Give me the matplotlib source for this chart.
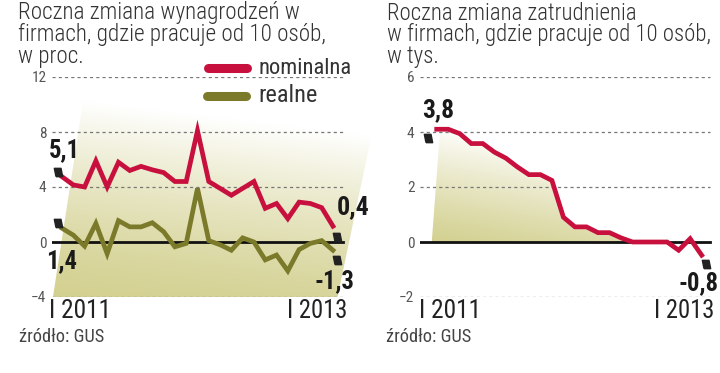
import numpy as np
import matplotlib
matplotlib.use('agg')
import matplotlib.pyplot as plt
from matplotlib.patches import Polygon
from matplotlib.lines import Line2D
from matplotlib.path import Path

plt.rcParams['font.family'] = ['Roboto Condensed', 'Archivo Narrow', 'PT Sans Narrow',
                               'Liberation Sans Narrow', 'DejaVu Sans']

# wages, y/y change in %, I 2011 .. I 2013
nominal = [4.75, 4.15, 4.0, 5.9, 4.0, 5.8, 5.2, 5.5, 5.25, 5.05, 4.4, 4.4, 8.1,
           4.4, 3.9, 3.4, 3.9, 4.4, 2.45, 2.8, 1.7, 2.9, 2.8, 2.5, 1.15]
real = [1.0, 0.5, -0.3, 1.35, -0.85, 1.55, 1.1, 1.1, 1.4, 0.75, -0.35, -0.1, 3.9,
        0.1, -0.2, -0.6, 0.3, 0.0, -1.3, -0.95, -2.1, -0.55, -0.1, 0.1, -0.6]
wage_labels = [5.1, 1.4, 0.4, -1.3]

# employment, y/y change in thousands
employment = [4.1, 4.1, 3.94, 3.58, 3.58, 3.27, 3.05, 2.73, 2.45, 2.45, 2.24, 0.9,
              0.55, 0.55, 0.34, 0.34, 0.15, 0.0, 0.0, 0.0, 0.0, -0.3, 0.12, -0.48]
emp_labels = [3.8, -0.8]

x_labels = ['I 2011', 'I 2013']
titles = [['Roczna zmiana wynagrodzeń w', 'firmach, gdzie pracuje od 10 osób,', 'w proc.'],
          ['Roczna zmiana zatrudnienia', 'w firmach, gdzie pracuje od 10 osób,', 'w tys.']]

RED = '#c8103e'
OLIVE = '#7b7a2a'
TAN = np.array([0.83, 0.82, 0.57])
W, H = 720, 373

fig = plt.figure(figsize=(7.2, 3.73), dpi=100)
renderer = fig.canvas.get_renderer()


def px(x, y):
    return x / W, 1 - y / H


def fit(t, width):
    # scale a text so that it is as wide as in the reference
    w = t.get_window_extent(renderer).width
    t.set_fontsize(t.get_fontsize() * width / w)
    return t


def add_axes(x0, x1, y0, y1):
    ax = fig.add_axes([x0 / W, 1 - y1 / H, (x1 - x0) / W, (y1 - y0) / H])
    ax.set_facecolor('none')
    for s in ax.spines.values():
        s.set_visible(False)
    ax.tick_params(length=0, labelsize=11, labelcolor='#555555', pad=4)
    ax.set_xticks([])
    return ax


def gradient(ax, verts, extent, wu, wv, power):
    n = 200
    u, v = np.meshgrid(np.linspace(0, 1, n), np.linspace(0, 1, n))
    t = np.clip(wu * u + wv * v, 0, 1) ** power
    img = TAN * (1 - t[..., None]) + np.ones(3) * t[..., None]
    im = ax.imshow(img, extent=extent, origin='lower', aspect='auto', zorder=0,
                   interpolation='bilinear')
    patch = Polygon(verts, closed=True, facecolor='none', edgecolor='none')
    ax.add_patch(patch)
    im.set_clip_path(patch)


tag = Path([(-0.6, -1), (1, -1), (0.6, 1), (-1, 1), (-0.6, -1)])

# ---------- left chart: wages
ax1 = add_axes(52, 370, 77, 297)
xs = np.arange(len(nominal))
gradient(ax1, [(-0.8, -4), (2.2, 12), (28.5, 12), (24.4, -4)],
         [-0.8, 28.5, -4, 12], 0.2, 1.1, 1.4)
for yv in [12, 8, 4, -4]:
    ax1.plot([-0.886, 24.9], [yv, yv], color='#777777', lw=0.9,
             ls=(0, (2.5, 2.5)), zorder=1)
ax1.plot([-0.886, 24.9], [0, 0], color='#111111', lw=2, zorder=2)
ax1.plot(xs, nominal, color=RED, lw=3.4, solid_joinstyle='miter', zorder=3)
ax1.plot(xs, real, color=OLIVE, lw=3.4, solid_joinstyle='miter', zorder=3)
ax1.plot([-0.35, -0.35, 24.36, 24.36], wage_labels, ls='none', marker=tag,
         ms=6, color='#222222', zorder=4, clip_on=False)
ax1.set_xlim(-0.886, 27.28)
ax1.set_ylim(-4, 12)
ax1.set_yticks([12, 8, 4, 0, -4])

# ---------- right chart: employment
ax2 = add_axes(420, 720, 77, 297)
xe = np.arange(len(employment))
emp_pos = np.clip(employment, 0, None)
last = 21
verts = [(-0.43, 0), (0.3, employment[0])] + \
        [(xe[i], emp_pos[i]) for i in range(1, last)] + [(last - 0.6, 0)]
gradient(ax2, verts, [-0.43, 20, 0, 4.1], 0.35, 0.95, 1.2)
for yv in [6, 4, 2, -2]:
    ax2.plot([-1.45, 23.73], [yv, yv], color='#777777', lw=0.9,
             ls=(0, (2.5, 2.5)), zorder=1)
ax2.plot([-1.45, 23.73], [0, 0], color='#111111', lw=2, zorder=2)
ax2.plot(xe, employment, color=RED, lw=3.4, solid_joinstyle='miter', zorder=3)
ax2.plot([-0.75, 23.37], emp_labels, ls='none', marker=tag, ms=6,
         color='#222222', zorder=4, clip_on=False)
ax2.set_xlim(-1.45, 24.59)
ax2.set_ylim(-2, 6)
ax2.set_yticks([6, 4, 2, 0, -2])

# ---------- texts
title_kw = dict(fontsize=14, color='#333333', va='baseline', ha='left',
                fontweight='light')
for x0, lines, width in [(18, titles[0], 307), (387, titles[1], 325)]:
    ref = fit(fig.text(*px(x0, 41.5), lines[1], **title_kw), width)
    size = ref.get_fontsize()
    fig.text(*px(x0, 19.5), lines[0], **{**title_kw, 'fontsize': size})
    fig.text(*px(x0, 63.5), lines[2], **{**title_kw, 'fontsize': size})

fig.add_artist(Line2D([208 / W, 247 / W], [px(0, 67.5)[1]] * 2, color=RED, lw=6.5,
                      solid_capstyle='round'))
fig.add_artist(Line2D([207 / W, 246 / W], [px(0, 96)[1]] * 2, color=OLIVE, lw=6.5,
                      solid_capstyle='round'))
fit(fig.text(*px(258, 74), 'nominalna', fontsize=14, color='#333333', va='baseline'), 93)
fit(fig.text(*px(258, 102), 'realne', fontsize=14, color='#333333', va='baseline'), 60)

lab_kw = dict(fontsize=15, fontweight='bold', color='#1a1a1a', va='center', ha='left')
fit(fig.text(*px(49, 150), '5,1', **lab_kw), 31)
fit(fig.text(*px(46, 261), '1,4', **lab_kw), 31)
fit(fig.text(*px(337, 207), '0,4', **lab_kw), 33)
fit(fig.text(*px(314, 281), '-1,3', **lab_kw), 40)
fit(fig.text(*px(422, 110), '3,8', **lab_kw), 32)
fit(fig.text(*px(678, 283), '-0,8', **lab_kw), 40)

xl_kw = dict(fontsize=15, color='#222222', va='center', ha='left')
for x0, x1 in [(49, 287), (419, 654)]:
    fit(fig.text(*px(x0, 311), x_labels[0], **xl_kw), 62)
    fit(fig.text(*px(x1, 311), x_labels[1], **xl_kw), 60)

fit(fig.text(*px(19, 337), 'źródło: GUS', fontsize=11, color='#444444', va='center'), 85)
fit(fig.text(*px(386, 337), 'źródło: GUS', fontsize=11, color='#444444', va='center'), 85)

fig.savefig('out.png', dpi=100)
